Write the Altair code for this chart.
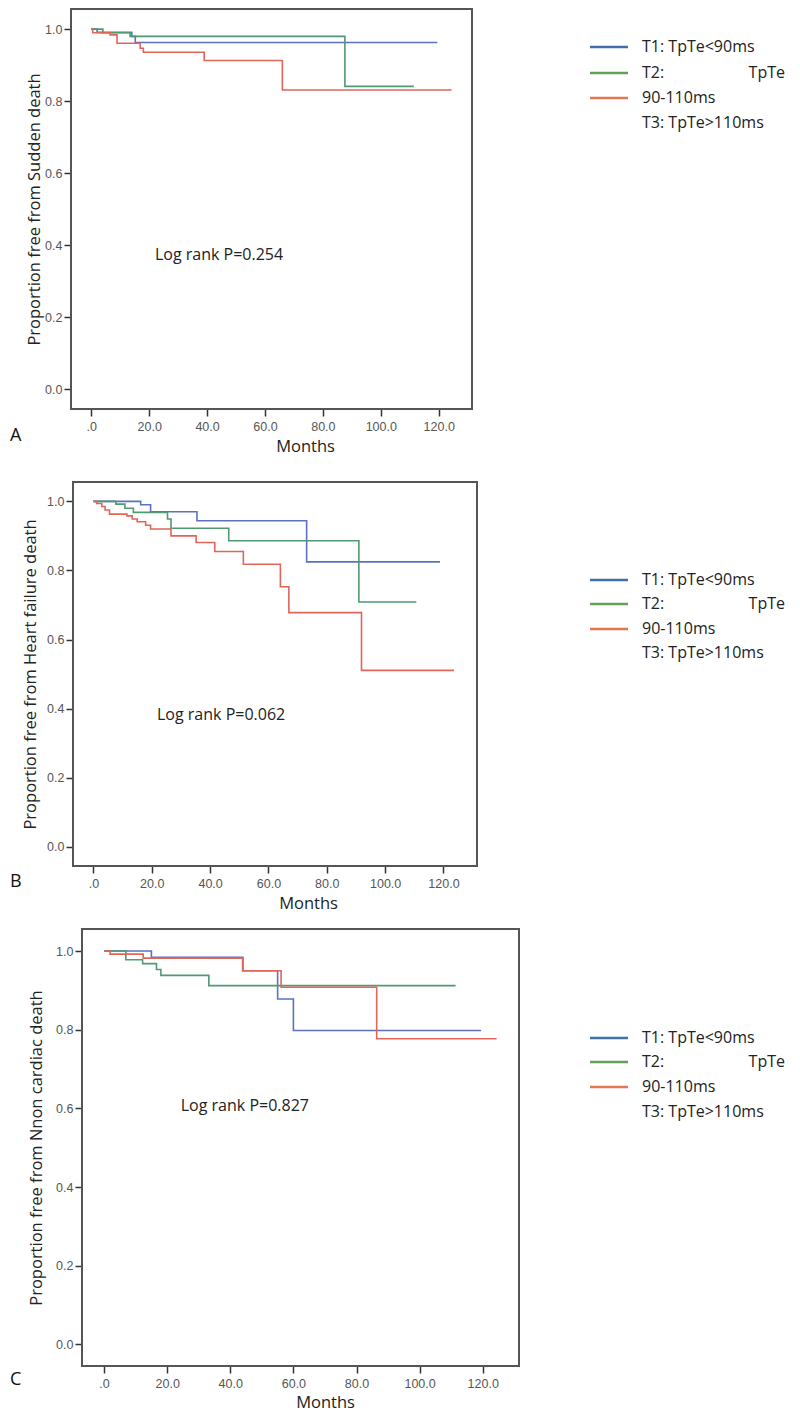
import altair as alt
import pandas as pd

GROUPS = ["T1", "T2", "T3"]
CURVE_COLORS = ["#5a72c0", "#4f9a72", "#e0665a"]
LEGEND_COLORS = ["#3f6fae", "#65a05a", "#e5764f"]
LEGEND_TEXT = ["T1: TpTe<90ms", "T2:", "90-110ms", "T3: TpTe>110ms"]
LEGEND_TEXT_RIGHT = "TpTe"
X_TICKS = [0, 20, 40, 60, 80, 100, 120]
Y_TICKS = [0.0, 0.2, 0.4, 0.6, 0.8, 1.0]

# Panel A: sudden death
a_t1_time = [0, 2, 14, 15.2, 119.5]
a_t1_surv = [1.0, 0.991, 0.98, 0.963, 0.963]
a_t2_time = [0, 4, 13.4, 87.6, 111.4]
a_t2_surv = [1.0, 0.99, 0.98, 0.841, 0.841]
a_t3_time = [0, 0.5, 6.5, 8.9, 16.9, 18, 39, 66, 124.4]
a_t3_surv = [1.0, 0.99, 0.984, 0.961, 0.947, 0.936, 0.913, 0.831, 0.831]

# Panel B: heart failure death
b_t1_time = [0, 16.2, 19.6, 35.5, 73.1, 118.8]
b_t1_surv = [1.0, 0.99, 0.97, 0.944, 0.825, 0.825]
b_t2_time = [0, 7.7, 10.8, 13.7, 25.4, 26.6, 46.4, 91, 110.7]
b_t2_surv = [1.0, 0.992, 0.98, 0.968, 0.949, 0.922, 0.886, 0.709, 0.709]
b_t3_time = [0, 1.1, 2.9, 4, 5.5, 11.5, 13.3, 15, 17.9, 19.6, 26.6, 35.2, 41.6, 51.4, 64.1, 67, 91.9, 123.6]
b_t3_surv = [1.0, 0.994, 0.985, 0.975, 0.963, 0.958, 0.949, 0.941, 0.931, 0.92, 0.90, 0.881, 0.855, 0.818, 0.753, 0.678, 0.511, 0.511]

# Panel C: non cardiac death
c_t1_time = [0, 15, 44, 55, 60, 119.5]
c_t1_surv = [1.0, 0.984, 0.95, 0.878, 0.798, 0.798]
c_t2_time = [0, 6.9, 12.2, 16.6, 18, 33.2, 111.4]
c_t2_surv = [1.0, 0.978, 0.968, 0.953, 0.938, 0.912, 0.912]
c_t3_time = [0, 1.9, 12.4, 43.9, 56.1, 86.4, 124.4]
c_t3_surv = [1.0, 0.992, 0.982, 0.95, 0.908, 0.777, 0.777]

X_DOMAIN = [-7, 131.5]
Y_DOMAIN = [-0.055, 1.056]

TITLE_FONT = "Open Sans"
TICK_FONT = "Liberation Sans"


def build_panel(times, survs, ytitle, logtext, log_xy, w, h, letter, lay):
    k = lay["k"]  # horizontal inset of the frame within the view
    rows = []
    for g, ts, ss in zip(GROUPS, times, survs):
        for t, s in zip(ts, ss):
            rows.append({"group": g, "time": t, "surv": s})
    df = pd.DataFrame(rows)

    x_enc = alt.X(
        "time:Q",
        scale=alt.Scale(domain=X_DOMAIN, range=[k, k + w], nice=False, zero=False),
        axis=alt.Axis(
            values=X_TICKS,
            labelExpr="datum.value == 0 ? '.0' : format(datum.value, '.1f')",
            title="Months",
            titleFont=TITLE_FONT, titleFontSize=16.5, titleFontWeight="normal",
            titleColor="#222", titlePadding=lay["xtp"], titleX=lay["titlex"],
            labelFont=TICK_FONT, labelFontSize=12.5, labelColor="#555",
            labelPadding=4,
            tickColor="#333", tickSize=7, tickWidth=1.5,
            domain=False, grid=False,
        ),
    )
    y_enc = alt.Y(
        "surv:Q",
        scale=alt.Scale(domain=Y_DOMAIN, nice=False, zero=False),
        axis=alt.Axis(
            values=Y_TICKS, format=".1f",
            title=ytitle, offset=-k,
            titleFont=TITLE_FONT, titleFontSize=16.5, titleFontWeight="normal",
            titleColor="#222", titlePadding=lay["ytp"],
            labelFont=TICK_FONT, labelFontSize=12.5, labelColor="#555",
            labelPadding=2,
            tickColor="#333", tickSize=7, tickWidth=1.5,
            domain=False, grid=False,
        ),
    )

    dummy = pd.DataFrame({"a": [0]})
    frame = alt.Chart(dummy).mark_rect(fillOpacity=0, stroke="#555", strokeWidth=2).encode(
        x=alt.value(k), x2=alt.value(k + w), y=alt.value(0), y2=alt.value(h)
    )

    lines = alt.Chart(df).mark_line(interpolate="step-after", strokeWidth=1.6).encode(
        x=x_enc, y=y_enc,
        color=alt.Color("group:N", scale=alt.Scale(domain=GROUPS, range=CURVE_COLORS), legend=None),
    )

    logdf = pd.DataFrame({"time": [log_xy[0]], "surv": [log_xy[1]], "label": [logtext]})
    logt = alt.Chart(logdf).mark_text(
        align="left", baseline="middle", font=TITLE_FONT, fontSize=16, color="#222"
    ).encode(x=x_enc, y=y_enc, text="label:N")

    layers = [frame, lines, logt]
    for i in range(3):
        layers.append(
            alt.Chart(dummy).mark_rule(strokeWidth=2.5, color=LEGEND_COLORS[i]).encode(
                x=alt.value(k + lay["lx0"]), x2=alt.value(k + lay["lx1"]), y=alt.value(lay["rows"][i])
            )
        )
    for i in range(4):
        layers.append(
            alt.Chart(dummy).mark_text(
                align="left", baseline="middle", font=TITLE_FONT, fontSize=16, color="#222"
            ).encode(x=alt.value(k + lay["tx"]), y=alt.value(lay["rows"][i]), text=alt.value(LEGEND_TEXT[i]))
        )
    layers.append(
        alt.Chart(dummy).mark_text(
            align="right", baseline="middle", font=TITLE_FONT, fontSize=16, color="#222"
        ).encode(x=alt.value(k + lay["rx"]), y=alt.value(lay["rows"][1]), text=alt.value(LEGEND_TEXT_RIGHT))
    )
    layers.append(
        alt.Chart(dummy).mark_text(
            align="left", baseline="middle", font=TITLE_FONT, fontSize=18, color="#111"
        ).encode(x=alt.value(-61), y=alt.value(lay["lty"]), text=alt.value(letter))
    )
    if lay.get("spacer"):
        layers.append(
            alt.Chart(dummy).mark_text(opacity=0, fontSize=4).encode(
                x=alt.value(200), y=alt.value(lay["spacer"]), text=alt.value(".")
            )
        )
    return alt.layer(*layers).properties(width=w + k, height=h)


pa = build_panel(
    [a_t1_time, a_t2_time, a_t3_time], [a_t1_surv, a_t2_surv, a_t3_surv],
    "Proportion free from Sudden death", "Log rank P=0.254", (22, 0.372), 401, 400, "A",
    dict(k=0, xtp=6, ytp=2, titlex=234, lx0=519, lx1=557, tx=571, rx=714,
         rows=[38, 64, 89, 114], lty=427),
)
pb = build_panel(
    [b_t1_time, b_t2_time, b_t3_time], [b_t1_surv, b_t2_surv, b_t3_surv],
    "Proportion free from Heart failure death", "Log rank P=0.062", (21.8, 0.383), 404, 384, "B",
    dict(k=2, xtp=6, ytp=8, titlex=237, lx0=517, lx1=555, tx=569, rx=712,
         rows=[98, 122, 147, 171], lty=400, spacer=-9),
)
pc = build_panel(
    [c_t1_time, c_t2_time, c_t3_time], [c_t1_surv, c_t2_surv, c_t3_surv],
    "Proportion free from Nnon cardiac death", "Log rank P=0.827", (24.3, 0.605), 437, 437, "C",
    dict(k=11, xtp=5, ytp=11, titlex=254, lx0=508, lx1=546, tx=560, rx=703,
         rows=[109, 133, 158, 183], lty=451),
)

chart = alt.concat(pa, pb, pc, columns=1, spacing=16).properties(
    padding={"left": 2, "top": 0, "right": 5, "bottom": 5}
).configure_view(strokeWidth=0)

chart.save("out.html", embed_options={"renderer": "svg", "actions": False})
